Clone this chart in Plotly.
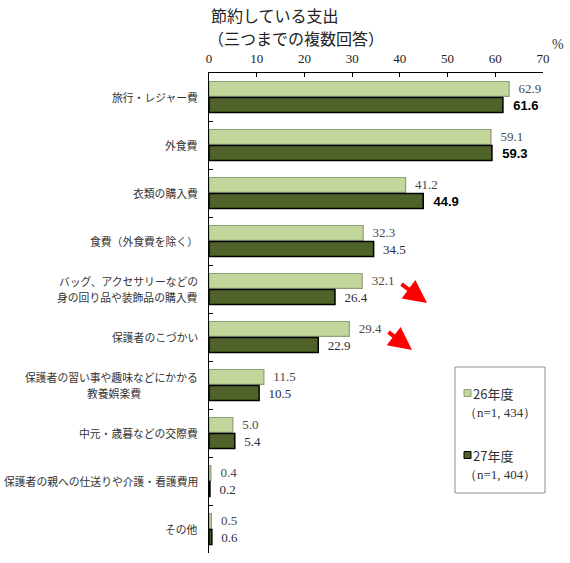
import plotly.graph_objects as go

categories = [
    "旅行・レジャー費",
    "外食費",
    "衣類の購入費",
    "食費（外食費を除く）",
    "バッグ、アクセサリーなどの\n身の回り品や装飾品の購入費",
    "保護者のこづかい",
    "保護者の習い事や趣味などにかかる\n教養娯楽費",
    "中元・歳暮などの交際費",
    "保護者の親への仕送りや介護・看護費用",
    "その他",
]
h26 = [62.9, 59.1, 41.2, 32.3, 32.1, 29.4, 11.5, 5.0, 0.4, 0.5]
h27 = [61.6, 59.3, 44.9, 34.5, 26.4, 22.9, 10.5, 5.4, 0.2, 0.6]
bold27 = [True, True, True, False, False, False, False, False, False, False]
tick_vals = [0, 10, 20, 30, 40, 50, 60, 70]
series_names = ["26年度", "27年度"]
series_n = ["（n=1, 434）", "（n=1, 404）"]
title_lines = ["節約している支出", "（三つまでの複数回答）"]

W, H = 570, 563
L, R, T, B = 209, 27, 73, 10
PW, PH = W - L - R, H - T - B


def px_x(x):
    return (x - L) / PW


def px_y(y):
    return (H - B - y) / PH


LIGHT, LIGHT_LINE = "#c3d69b", "#8f9d78"
DARK, DARK_LINE = "#4f6228", "#000000"
CAT_FONT = dict(family="Noto Sans CJK JP", size=10.8, color="#333333")

pad = "\u00a0\u00a0"
text26 = [pad + f"{v:.1f}" for v in h26]
text27 = [pad + (f"<b>{v:.1f}</b>" if b else f"{v:.1f}") for v, b in zip(h27, bold27)]
fam27 = ["Liberation Sans" if b else "Liberation Serif" for b in bold27]
col27 = ["#000000" if b else "#2b2b3a" for b in bold27]

fig = go.Figure()
fig.add_trace(go.Bar(
    y=categories, x=h26, orientation="h", name=series_names[0],
    marker=dict(color=LIGHT, line=dict(color=LIGHT_LINE, width=1.2)),
    text=text26, textposition="outside", cliponaxis=False,
    textfont=dict(family="Liberation Serif", size=13, color="#4a4a4a", weight="normal"),
    constraintext="none", showlegend=False,
))
fig.add_trace(go.Bar(
    y=categories, x=h27, orientation="h", name=series_names[1],
    marker=dict(color=DARK, line=dict(color=DARK_LINE, width=1.5)),
    text=text27, textposition="outside", cliponaxis=False,
    textfont=dict(family=fam27, size=13, color=col27, weight="normal"),
    constraintext="none", showlegend=False,
))

fig.update_layout(
    template="none",
    width=W, height=H,
    margin=dict(l=L, r=R, t=T, b=B, pad=0),
    paper_bgcolor="white", plot_bgcolor="white",
    barmode="group", bargap=0.33, bargroupgap=0.07,
    showlegend=False,
    xaxis=dict(
        side="top", range=[0, 70], tickvals=tick_vals,
        ticks="inside", ticklen=4, tickcolor="black",
        showline=True, linecolor="black", linewidth=1,
        showgrid=False, zeroline=False, automargin=False,
        tickfont=dict(family="Liberation Serif", size=13, color="#222222"),
        ticklabelstandoff=4,
    ),
    yaxis=dict(
        autorange="reversed", tickson="boundaries",
        ticks="inside", ticklen=4, tickcolor="black",
        showline=True, linecolor="black", linewidth=1,
        showgrid=False, zeroline=False, automargin=False,
        showticklabels=False,
    ),
)

ann = []
# category labels (drawn as annotations so two-line labels can be laid out like the original)
for cat in categories:
    lines = cat.split("\n")
    if len(lines) == 1:
        ann.append(dict(xref="paper", yref="y", x=px_x(200), y=cat,
                        xanchor="right", yanchor="middle", showarrow=False,
                        text=lines[0], font=CAT_FONT))
    else:
        first_w = len(lines[0]) * CAT_FONT["size"]
        ann.append(dict(xref="paper", yref="y", x=px_x(200), y=cat, yshift=8,
                        xanchor="right", yanchor="middle", showarrow=False,
                        text=lines[0], font=CAT_FONT))
        second_right = len(lines[1]) >= len(lines[0]) - 2
        ann.append(dict(xref="paper", yref="y",
                        x=px_x(200) if second_right else px_x(200 - first_w / 2),
                        y=cat, yshift=-8,
                        xanchor="right" if second_right else "center",
                        yanchor="middle", showarrow=False,
                        text=lines[1], font=CAT_FONT))

# title, two lines
for txt, xx, yy in [(title_lines[0], 209, 15), (title_lines[1], 206, 38)]:
    ann.append(dict(xref="paper", yref="paper", x=px_x(xx), y=px_y(yy),
                    xanchor="left", yanchor="middle", showarrow=False,
                    text=txt,
                    font=dict(family="Noto Sans CJK JP", size=16, color="#222222")))
ann.append(dict(xref="paper", yref="paper", x=px_x(558), y=px_y(44),
                xanchor="center", yanchor="middle", showarrow=False,
                text="%",
                font=dict(family="Liberation Serif", size=14, color="#333333")))

# red arrows
for tip, tail in [((427, 303), (400, 283)), ((412, 350), (387, 331))]:
    ann.append(dict(xref="paper", yref="paper", x=px_x(tip[0]), y=px_y(tip[1]),
                    ax=tail[0] - tip[0], ay=tail[1] - tip[1],
                    showarrow=True, arrowhead=2, arrowsize=1.15, arrowwidth=4,
                    arrowcolor="#ff0000", text=""))

# legend (custom box)
shapes = [dict(type="rect", xref="paper", yref="paper",
               x0=px_x(455), x1=px_x(545), y0=px_y(367), y1=px_y(493),
               line=dict(color="#909090", width=1), fillcolor="white")]
legend_rows = [(393, LIGHT, LIGHT_LINE), (455, DARK, "#000000")]
for i, (yy, fc, lc) in enumerate(legend_rows):
    shapes.append(dict(type="rect", xref="paper", yref="paper",
                       x0=px_x(464), x1=px_x(471), y0=px_y(yy + 3.5), y1=px_y(yy - 3.5),
                       line=dict(color=lc, width=1), fillcolor=fc))
    ann.append(dict(xref="paper", yref="paper", x=px_x(471), y=px_y(yy),
                    xanchor="left", yanchor="middle", showarrow=False,
                    text=series_names[i],
                    font=dict(family="Noto Sans CJK JP", size=13, color="#333333")))
    ann.append(dict(xref="paper", yref="paper", x=px_x(462), y=px_y(yy + 19),
                    xanchor="left", yanchor="middle", showarrow=False,
                    text=series_n[i],
                    font=dict(family="Liberation Serif", size=13, color="#333333")))

fig.update_layout(annotations=ann, shapes=shapes)
fig.write_html("out.html")
